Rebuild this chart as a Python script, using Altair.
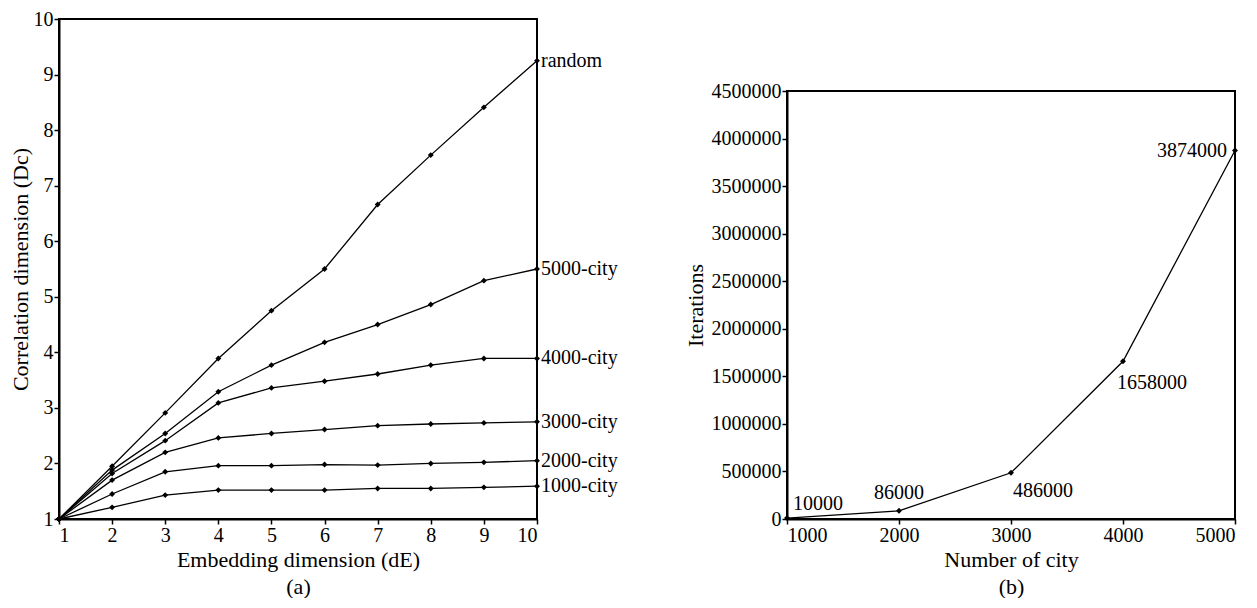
import altair as alt
import pandas as pd

# ---- data: panel (a) ----
dims = [1, 2, 3, 4, 5, 6, 7, 8, 9, 10]
series_names = ["random", "5000-city", "4000-city", "3000-city", "2000-city", "1000-city"]
random_dc = [1, 1.95, 2.91, 3.89, 4.75, 5.50, 6.66, 7.55, 8.41, 9.25]
city5000_dc = [1, 1.88, 2.54, 3.29, 3.77, 4.18, 4.50, 4.86, 5.29, 5.50]
city4000_dc = [1, 1.82, 2.41, 3.09, 3.36, 3.48, 3.61, 3.77, 3.89, 3.89]
city3000_dc = [1, 1.70, 2.20, 2.46, 2.54, 2.61, 2.68, 2.71, 2.73, 2.75]
city2000_dc = [1, 1.45, 1.85, 1.96, 1.96, 1.98, 1.97, 2.00, 2.02, 2.05]
city1000_dc = [1, 1.21, 1.43, 1.52, 1.52, 1.52, 1.55, 1.55, 1.57, 1.59]

# ---- data: panel (b) ----
cities = [1000, 2000, 3000, 4000, 5000]
iterations = [10000, 86000, 486000, 1658000, 3874000]
iter_ticks = [0, 500000, 1000000, 1500000, 2000000, 2500000,
              3000000, 3500000, 4000000, 4500000]

FONT = "Liberation Serif"
TICK_FS = 20
TITLE_FS = 22

all_series = [random_dc, city5000_dc, city4000_dc, city3000_dc, city2000_dc, city1000_dc]
rows = []
for name, vals in zip(series_names, all_series):
    for d, v in zip(dims, vals):
        rows.append({"series": name, "dim": d, "dc": v})
df_a = pd.DataFrame(rows)
df_b = pd.DataFrame({"cities": cities, "iterations": iterations})

frame = alt.ViewBackground(stroke="black", strokeWidth=2)

xa = alt.X("dim:Q", scale=alt.Scale(domain=[1, 10], nice=False),
           axis=alt.Axis(values=dims, format="d",
                         title=["Embedding dimension (dE)", "(a)"]))
ya = alt.Y("dc:Q", scale=alt.Scale(domain=[1, 10], nice=False),
           axis=alt.Axis(values=dims, format="d", titlePadding=1,
                         title="Correlation dimension (Dc)"))

base_a = alt.Chart(df_a)
lines_a = base_a.mark_line(color="black", strokeWidth=1.3).encode(
    x=xa, y=ya, detail="series:N")
pts_a = base_a.mark_point(shape="diamond", filled=True, color="black",
                          size=35, opacity=1).encode(x=xa, y=ya, detail="series:N")
labels_a = base_a.transform_filter(alt.datum.dim == 10).mark_text(
    align="left", baseline="middle", dx=4, font=FONT, fontSize=TICK_FS,
    color="black").encode(x=xa, y=ya, text="series:N")

chart_a = alt.layer(lines_a, pts_a, labels_a).properties(
    width=478, height=500, view=frame)

xb = alt.X("cities:Q", scale=alt.Scale(domain=[1000, 5000], nice=False),
           axis=alt.Axis(values=cities, format="d",
                         title=["Number of city", "(b)"]))
yb = alt.Y("iterations:Q", scale=alt.Scale(domain=[0, 4500000], nice=False),
           axis=alt.Axis(values=iter_ticks, format="d", title="Iterations"))

base_b = alt.Chart(df_b)
line_b = base_b.mark_line(color="black", strokeWidth=1.3).encode(x=xb, y=yb)
pts_b = base_b.mark_point(shape="diamond", filled=True, color="black",
                          size=35, opacity=1).encode(x=xb, y=yb)

# label placement (style only): city -> (align, dx, dy)
label_place = {
    1000: ("left", 6, -14),
    2000: ("center", 0, -18),
    3000: ("left", 2, 18),
    4000: ("left", -6, 22),
    5000: ("right", -8, 0),
}
label_layers = []
for c in cities:
    al, dx, dy = label_place[c]
    label_layers.append(
        base_b.transform_filter(alt.datum.cities == c).mark_text(
            align=al, baseline="middle", dx=dx, dy=dy, font=FONT,
            fontSize=TICK_FS, color="black").encode(
            x=xb, y=yb, text=alt.Text("iterations:Q", format="d")))

chart_b = alt.layer(line_b, pts_b, *label_layers).properties(
    width=448, height=428, view=frame)

spacer = alt.Chart(pd.DataFrame({"a": [0]})).mark_text(text="").encode(
    x=alt.value(0)).properties(width=10, height=60,
                               view=alt.ViewBackground(stroke="transparent"))

right_col = alt.vconcat(spacer, chart_b, spacing=0)

chart = alt.hconcat(chart_a, right_col, spacing=64).properties(
    padding={"left": 0, "top": 0, "right": 0, "bottom": 0}
).configure_axis(
    domainColor="black", domainWidth=2, tickColor="black", tickSize=5,
    tickWidth=1.5, labelColor="black", titleColor="black",
    labelFont=FONT, titleFont=FONT, labelFontSize=TICK_FS,
    titleFontSize=TITLE_FS, titleFontWeight="normal", grid=False,
    labelPadding=1, titlePadding=4, titleLineHeight=27
).configure_view(stroke="black", strokeWidth=2)

chart.save("out.html", embed_options={"renderer": "svg", "actions": False})
